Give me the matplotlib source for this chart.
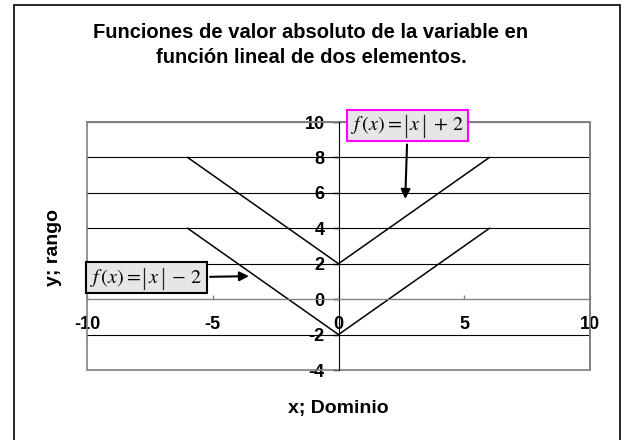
import matplotlib.pyplot as plt
from matplotlib.patches import Rectangle
from matplotlib.lines import Line2D
from matplotlib.offsetbox import TextArea, HPacker, AnnotationBbox, DrawingArea

plt.rcParams['font.family'] = ['Liberation Sans', 'DejaVu Sans']
plt.rcParams['mathtext.fontset'] = 'stix'
plt.rcParams['axes.unicode_minus'] = False

# datos de las dos funciones
x = [-6, -5, -4, -3, -2, -1, 0, 1, 2, 3, 4, 5, 6]
y_mas2 = [8, 7, 6, 5, 4, 3, 2, 3, 4, 5, 6, 7, 8]
y_menos2 = [4, 3, 2, 1, 0, -1, -2, -1, 0, 1, 2, 3, 4]

xticks = [-10, -5, 0, 5, 10]
yticks = [-4, -2, 0, 2, 4, 6, 8, 10]

titulo = "Funciones de valor absoluto de la variable en\nfunción lineal de dos elementos."
etiq_x = "x; Dominio"
etiq_y = "y; rango"


def barra():
    # barra vertical alta del valor absoluto
    da = DrawingArea(3, 15.5, 0, 4.8)
    da.add_artist(Line2D([1.5, 1.5], [-4.8, 10.7], color='#222222', lw=0.9))
    return da


def etiqueta(signo):
    tm = dict(fontsize=14.5)
    partes = [TextArea(r"$f\,(x) = $", textprops=tm),
              barra(),
              TextArea(r"$x$", textprops=tm),
              barra(),
              TextArea(r"$\," + signo + r"\,2$", textprops=tm)]
    return HPacker(children=partes, align='baseline', pad=0, sep=1)


fig = plt.figure(figsize=(6.23, 4.40), dpi=100)
ax = fig.add_axes([87/623, 1-370/440, (590-87)/623, (370-122)/440])

# marco exterior
fig.patches.append(Rectangle((14/623, -0.05), (620-14)/623, 1.05 - 5/440,
                             transform=fig.transFigure, fill=False,
                             ec='black', lw=1.2))

ax.plot(x, y_mas2, color='black', lw=1.1, zorder=3)
ax.plot(x, y_menos2, color='black', lw=1.1, zorder=3)

ax.set_xlim(-10, 10)
ax.set_ylim(-4, 10)
ax.set_xticks(xticks)
ax.set_yticks(yticks)
ax.yaxis.grid(True, color='black', lw=0.8)

for s in ['top', 'right']:
    ax.spines[s].set_color('#808080')
    ax.spines[s].set_linewidth(1.2)
ax.spines['left'].set_position(('data', 0))
ax.spines['left'].set_color('black')
ax.spines['left'].set_zorder(4)
ax.spines['bottom'].set_position(('data', 0))
ax.spines['bottom'].set_color('#808080')
ax.spines['bottom'].set_zorder(4)
ax.add_patch(Rectangle((0, 0), 1, 1, transform=ax.transAxes, fill=False,
                       ec='#808080', lw=1.2, zorder=4, clip_on=False))

ax.tick_params(axis='y', direction='out', length=4, width=1, color='black',
               pad=6, labelsize=13)
ax.tick_params(axis='x', direction='in', length=3, width=1, color='#808080',
               pad=12, labelsize=13)
for lab in ax.get_xticklabels() + ax.get_yticklabels():
    lab.set_fontweight('bold')

fig.text(311/623, 1-45/440, titulo, ha='center', va='center', fontsize=14.5,
         fontweight='bold', linespacing=1.4)
fig.text(338/623, 1-408/440, etiq_x, ha='center', va='center', fontsize=14,
         fontweight='bold')
fig.text(53/623, 1-248/440, etiq_y, ha='center', va='center', fontsize=14,
         fontweight='bold', rotation=90)

ab1 = AnnotationBbox(etiqueta("+"), xy=(2.65, 5.5), xybox=(2.75, 9.8),
                     boxcoords='data', pad=0.3, zorder=6,
                     bboxprops=dict(boxstyle='square', fc='#e6e6e6',
                                    ec='#ff00ff', lw=1.5),
                     arrowprops=dict(arrowstyle='-|>', color='black', lw=1.5))
ax.add_artist(ab1)
ab2 = AnnotationBbox(etiqueta("-"), xy=(-3.45, 1.3), xybox=(-7.65, 1.2),
                     boxcoords='data', pad=0.3, zorder=6,
                     bboxprops=dict(boxstyle='square', fc='#e6e6e6',
                                    ec='black', lw=1.5),
                     arrowprops=dict(arrowstyle='-|>', color='black', lw=1.5))
ax.add_artist(ab2)

fig.savefig('out.png', dpi=100)
